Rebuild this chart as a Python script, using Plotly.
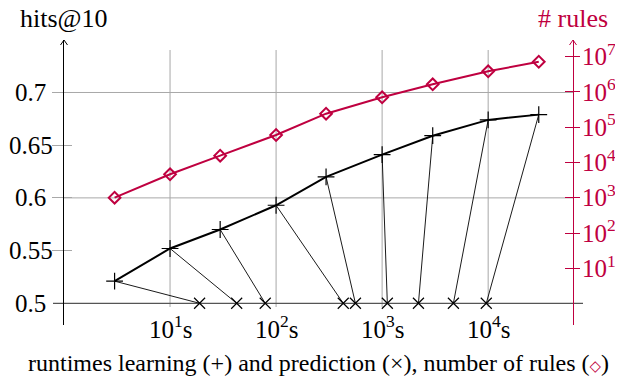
import numpy as np
import plotly.graph_objects as go

# ---------------- data ----------------
learn_time = [3.0, 10, 29.7, 100, 296, 1000, 3000, 10000, 30000]
hits10 = [0.521, 0.552, 0.570, 0.593, 0.620, 0.641, 0.659, 0.674, 0.679]
pred_time = [19, 42.5, 79, 430, 560, 1120, 2200, 4700, 9600]
num_rules = [1000, 4600, 15500, 59700, 240000, 698000, 1630000, 3800000, 7100000]

x_tick_vals = [10, 100, 1000, 10000]
x_tick_text = ["10<sup>1</sup>s", "10<sup>2</sup>s", "10<sup>3</sup>s", "10<sup>4</sup>s"]
y_tick_vals = [0.5, 0.55, 0.6, 0.65, 0.7]
y_tick_text = ["0.5", "0.55", "0.6", "0.65", "0.7"]
y2_tick_vals = [10, 100, 1000, 10000, 100000, 1000000, 10000000]
y2_tick_text = ["10<sup>%d</sup>" % k for k in range(1, 8)]
grid_y = [0.6, 0.7]
baseline = 0.5

# ---------------- style ----------------
# page body has an 8px default margin -> figure sized/offset to compensate
W, H = 615, 369
ML, MR, MT, MB = 56, 50, 32, 52
PW, PH = W - ML - MR, H - MT - MB
RED = "#BF0040"
GRID = "#a8a8a8"
FONT = "'Liberation Serif', Tinos, 'Times New Roman', 'DejaVu Serif', serif"
FS = 24
FS_TICK = 25

def px_x(p):  # pixel offset -> paper x
    return p / PW

def px_y(p):
    return p / PH

fig = go.Figure()

# connectors learning -> prediction
cx, cy = [], []
for lt, h, pt in zip(learn_time, hits10, pred_time):
    cx += [lt, pt, None]
    cy += [h, baseline, None]
fig.add_trace(go.Scatter(x=cx, y=cy, mode="lines",
                         line=dict(color="black", width=0.9),
                         hoverinfo="skip", showlegend=False))

fig.add_trace(go.Scatter(x=learn_time, y=hits10, mode="lines+markers",
                         line=dict(color="black", width=2),
                         marker=dict(symbol="cross-thin", size=12,
                                     line=dict(color="black", width=1.2)),
                         showlegend=False))

fig.add_trace(go.Scatter(x=pred_time, y=[baseline] * len(pred_time), mode="markers",
                         marker=dict(symbol="x-thin", size=11,
                                     line=dict(color="black", width=1.2)),
                         showlegend=False))

fig.add_trace(go.Scatter(x=learn_time, y=num_rules, yaxis="y2", mode="lines+markers",
                         line=dict(color=RED, width=2),
                         marker=dict(symbol="diamond-open", size=9, color=RED,
                                     line=dict(color=RED, width=2)),
                         showlegend=False))

# dummy traces for tick-overlay axes
fig.add_trace(go.Scatter(x=[], y=[], yaxis="y3", showlegend=False))
fig.add_trace(go.Scatter(x=[], y=[], yaxis="y4", showlegend=False))

y_range = [0.4794, 0.7498]
y2_range = [-0.606, 7.467]

shapes = []
# horizontal grid
for g in grid_y:
    shapes.append(dict(type="line", xref="paper", yref="y", x0=0, x1=1, y0=g, y1=g,
                       line=dict(color=GRID, width=1), layer="below"))
# vertical grid
for v in x_tick_vals:
    shapes.append(dict(type="line", xref="x", yref="paper", x0=v, x1=v,
                       y0=px_y(18), y1=px_y(275),
                       line=dict(color=GRID, width=1), layer="below"))
# baseline (x axis at 0.5)
shapes.append(dict(type="line", xref="paper", yref="y", x0=-px_x(11), x1=1 + px_x(10),
                   y0=baseline, y1=baseline, line=dict(color="#555555", width=1.2),
                   layer="below"))
# arrow heads
for xp, col in [(0, "black"), (1, RED)]:
    path = "M %f,%f L %f,%f L %f,%f" % (xp - px_x(3.5), 1 - px_y(5), xp, 1,
                                        xp + px_x(3.5), 1 - px_y(5))
    shapes.append(dict(type="path", xref="paper", yref="paper", path=path,
                       line=dict(color=col, width=1)))

annotations = []
for v, t in zip(y_tick_vals, y_tick_text):
    annotations.append(dict(x=-px_x(33.5), y=v, xref="paper", yref="y", text=t,
                            showarrow=False, xanchor="center", yanchor="middle",
                            font=dict(family=FONT, size=FS_TICK, color="black")))
for v, t in zip(x_tick_vals, x_tick_text):
    annotations.append(dict(x=np.log10(v), y=-px_y(2), xref="x", yref="paper", text=t,
                            showarrow=False, xanchor="center", yanchor="middle",
                            font=dict(family=FONT, size=FS_TICK, color="black")))
annotations.append(dict(x=0, y=1 + px_y(21), xref="paper", yref="paper", text="hits@10",
                        showarrow=False, xanchor="center", yanchor="middle",
                        font=dict(family=FONT, size=26, color="black")))
annotations.append(dict(x=1, y=1 + px_y(21), xref="paper", yref="paper", text="# rules",
                        showarrow=False, xanchor="center", yanchor="middle",
                        font=dict(family=FONT, size=26, color=RED)))
annotations.append(dict(x=0.5, y=-px_y(38), xref="paper", yref="paper",
                        text="runtimes learning (+) and prediction (×), number of rules "
                             "(<span style='color:%s;font-size:15px'>◇</span>)" % RED,
                        showarrow=False, xanchor="center", yanchor="middle",
                        font=dict(family=FONT, size=FS, color="black")))

fig.update_layout(
    template="none",
    width=W, height=H,
    margin=dict(l=ML, r=MR, t=MT, b=MB, autoexpand=False),
    paper_bgcolor="white", plot_bgcolor="white",
    font=dict(family=FONT, size=FS),
    xaxis=dict(type="log", range=[0, 4.8], showgrid=False, zeroline=False,
               showticklabels=False, ticks="", showline=False, automargin=False),
    yaxis=dict(range=y_range, tickvals=y_tick_vals[1:], ticks="outside", ticklen=11,
               tickcolor=GRID, tickwidth=1, showticklabels=False, showline=True,
               linecolor="black", linewidth=1, showgrid=False, zeroline=False,
               automargin=False),
    yaxis3=dict(range=y_range, overlaying="y", tickvals=y_tick_vals[1:], ticks="inside",
                ticklen=8, tickcolor=GRID, tickwidth=1, showticklabels=False,
                showline=False, showgrid=False, zeroline=False, automargin=False),
    yaxis2=dict(type="log", range=y2_range, overlaying="y", side="right",
                tickvals=y2_tick_vals, ticktext=y2_tick_text, ticks="outside", ticklen=6,
                tickcolor=RED, tickwidth=1, tickfont=dict(family=FONT, size=FS_TICK, color=RED),
                ticklabelstandoff=-3,
                showline=True, linecolor=RED, linewidth=1.2, showgrid=False, zeroline=False,
                automargin=False),
    yaxis4=dict(type="log", range=y2_range, overlaying="y", side="right",
                tickvals=y2_tick_vals, ticks="inside", ticklen=8, tickcolor=RED, tickwidth=1,
                showticklabels=False, showline=False, showgrid=False, zeroline=False,
                automargin=False),
    shapes=shapes, annotations=annotations,
)

fig.write_html("out.html")
